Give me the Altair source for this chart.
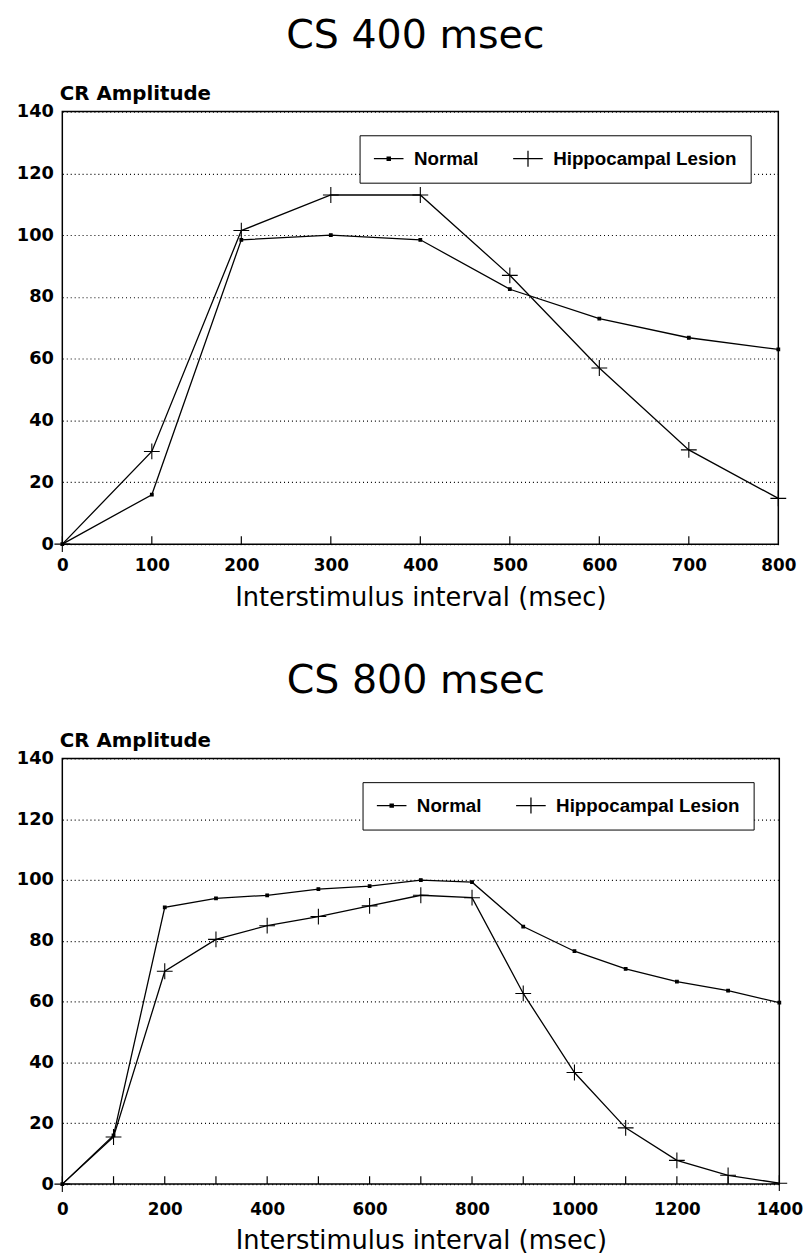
import altair as alt
import pandas as pd

FONT = "DejaVu Sans"
LEG_FONT = "Liberation Sans"

series = ["Normal", "Hippocampal Lesion"]
titles = ["CS 400 msec", "CS 800 msec"]

isi_400 = [0, 100, 200, 300, 400, 500, 600, 700, 800]
normal_400 = [0, 16, 98.5, 100, 98.5, 82.5, 73, 66.8, 63]
lesion_400 = [0, 30, 101.5, 113, 113, 87, 57, 30.5, 14.8]

isi_800 = [0, 100, 200, 300, 400, 500, 600, 700, 800, 900, 1000, 1100, 1200, 1300, 1400]
normal_800 = [0, 16, 91, 94, 95, 97, 98, 100, 99.3, 84.7, 76.6, 70.8, 66.6, 63.6, 59.7]
lesion_800 = [0, 15.5, 70, 80.5, 85, 88, 91.5, 95, 94.2, 62.7, 36.7, 18.5, 7.8, 2.9, 0.3]

y_ticks = [0, 20, 40, 60, 80, 100, 120, 140]
x_labels_400 = [0, 100, 200, 300, 400, 500, 600, 700, 800]
x_labels_800 = [0, 200, 400, 600, 800, 1000, 1200, 1400]
x_minor_400 = [100, 200, 300, 400, 500, 600, 700]
x_minor_800 = [100, 200, 300, 400, 500, 600, 700, 800, 900, 1000, 1100, 1200, 1300]

# marker shapes on the data
SQ = "M-0.17,-0.17H0.17V0.17H-0.17Z"
PLUS = "M-1,0H1M0,-1V1"
# legend symbols (filled outlines): line segment with its marker
LSQ = "M-1,-0.07H2.33V0.07H-1Z M0.42,-0.25H0.92V0.25H0.42Z"
LPLUS = "M-1,-0.07H2.33V0.07H-1Z M0.6,-0.9H0.74V0.9H0.6Z"


def panel(isi, normal, lesion, xmax, xlabels, xminor, title, w, h, lx, ly,
          lab_pad, title_y, t_offset):
    rows = []
    for s, vals in zip(series, [normal, lesion]):
        for x, v in zip(isi, vals):
            rows.append({"isi": x, "amp": v, "series": s})
    df = pd.DataFrame(rows)
    ticks_df = pd.DataFrame({"t": xminor})

    xscale = alt.Scale(domain=[0, xmax], nice=False)
    yscale = alt.Scale(domain=[0, 140], nice=False)
    xaxis = alt.Axis(
        values=xlabels, title="Interstimulus interval (msec)", grid=False,
        ticks=False, domain=False, format="d",
        labelFont=FONT, labelFontWeight="bold", labelFontSize=17,
        labelColor="black", labelPadding=lab_pad, labelFlush=False,
        labelOverlap=False,
        titleFont=FONT, titleFontSize=26, titleFontWeight="normal",
        titleColor="black", titleBaseline="alphabetic", titleY=title_y,
    )
    yaxis = alt.Axis(
        values=y_ticks, title="CR Amplitude", grid=True, gridDash=[1, 3],
        gridColor="black", gridWidth=1.2, ticks=False, domain=False, format="d",
        labelFont=FONT, labelFontWeight="bold", labelFontSize=18,
        labelColor="black", labelPadding=9,
        titleFont=FONT, titleFontSize=20, titleFontWeight="bold",
        titleColor="black", titleAngle=0, titleAlign="left",
        titleBaseline="alphabetic", titleX=-3, titleY=-12,
    )
    X = alt.X("isi:Q", scale=xscale, axis=xaxis)
    Y = alt.Y("amp:Q", scale=yscale, axis=yaxis)

    base = alt.Chart(df)
    lines = base.mark_line(color="black", strokeWidth=1.3).encode(
        x=X, y=Y, detail="series:N"
    )
    pts = base.mark_point(
        fill="black", stroke="black", strokeWidth=1.1, size=256, opacity=1
    ).encode(
        x="isi:Q", y="amp:Q",
        shape=alt.Shape("series:N",
                        scale=alt.Scale(domain=series, range=[SQ, PLUS]),
                        legend=None),
    )
    # legend-only layer: its marks sit outside the clipped plot area
    leg = base.mark_point(
        clip=True, fill="black", stroke="black", strokeWidth=1.3, size=324,
        opacity=1,
    ).encode(
        x=alt.value(-200), y=alt.value(-200),
        shape=alt.Shape(
            "series:N",
            scale=alt.Scale(domain=series, range=[LSQ, LPLUS]),
            legend=alt.Legend(
                title=None, orient="none", legendX=lx, legendY=ly,
                direction="horizontal", strokeColor="black", fillColor="white",
                padding=14, labelFont=LEG_FONT, labelFontWeight="bold",
                labelFontSize=19, labelColor="black", labelOffset=22,
                labelLimit=400, columnPadding=34, symbolSize=324,
                symbolOpacity=1, symbolStrokeWidth=0,
                symbolFillColor="black", symbolStrokeColor="black",
            ),
        ),
    )
    ticks = alt.Chart(ticks_df).mark_rule(color="black", strokeWidth=1.2).encode(
        x=alt.X("t:Q"), y=alt.value(h), y2=alt.value(h - 8)
    )
    return alt.layer(lines, pts, ticks, leg).resolve_scale(
        shape="independent"
    ).properties(
        width=w, height=h,
        title=alt.TitleParams(
            title, font=FONT, fontSize=40, fontWeight="normal", color="black",
            anchor="middle", baseline="top", offset=t_offset, dx=-5,
        ),
    )


top = panel(isi_400, normal_400, lesion_400, 800, x_labels_400, x_minor_400,
            titles[0], 725, 438, 301, 24, 14, 62, 28)
bottom = panel(isi_800, normal_800, lesion_800, 1400, x_labels_800, x_minor_800,
               titles[1], 726, 431, 304, 24, 18, 65, 30)

chart = alt.vconcat(top, bottom, spacing=50).resolve_scale(
    shape="independent"
).resolve_legend(shape="independent").properties(
    padding={"left": 7, "top": 0, "right": 0, "bottom": 0}
).configure_view(stroke="black", strokeWidth=1.5)

chart.save("out.html", embed_options={"renderer": "svg", "actions": False})
